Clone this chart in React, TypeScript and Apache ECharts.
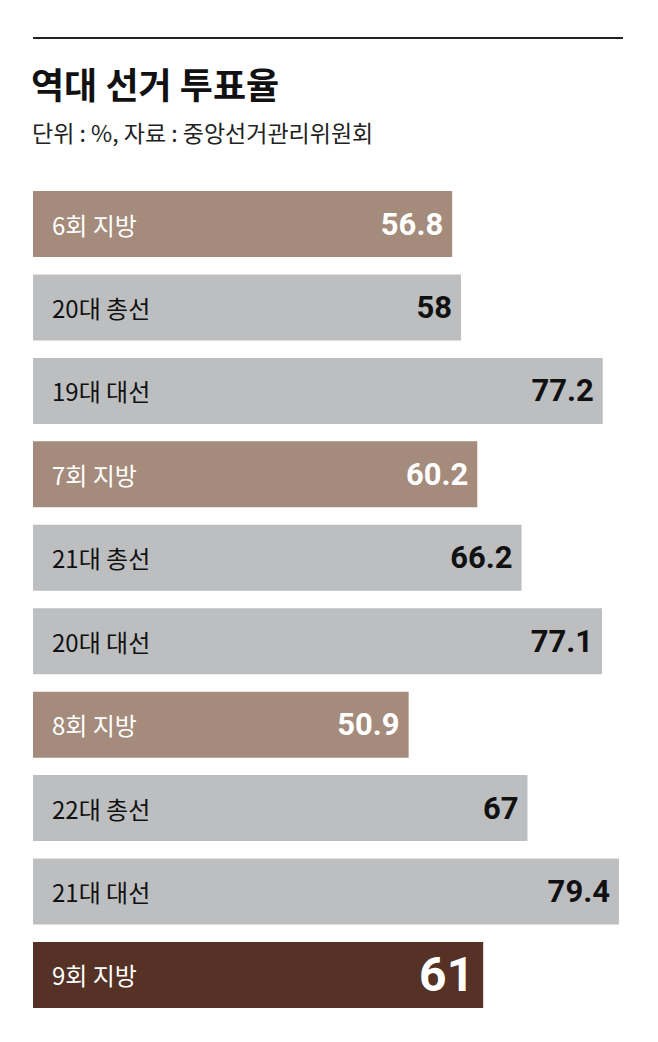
import React, { useEffect, useRef } from "react";
import * as echarts from "echarts";

const categories = ["6회 지방", "20대 총선", "19대 대선", "7회 지방", "21대 총선", "20대 대선", "8회 지방", "22대 총선", "21대 대선", "9회 지방"];
const turnout = [56.8, 58, 77.2, 60.2, 66.2, 77.1, 50.9, 67, 79.4, 61];
const electionType = ["local", "general", "presidential", "local", "general", "presidential", "local", "general", "presidential", "latest"];

const titleText = "역대 선거 투표율";
const subtitleText = "단위 : %, 자료 : 중앙선거관리위원회";

const barColor: Record<string, string> = {
  local: "#a58b7b",
  general: "#bdbec0",
  presidential: "#bdbec0",
  latest: "#553225",
};
const textColor: Record<string, string> = {
  local: "#ffffff",
  general: "#111111",
  presidential: "#111111",
  latest: "#ffffff",
};

const KR = "'Noto Sans CJK KR', sans-serif";
const NUM = "Roboto, 'Liberation Sans', sans-serif";

export default function App() {
  const ref = useRef<HTMLDivElement>(null);
  useEffect(() => {
    if (!ref.current) return;
    const chart = echarts.init(ref.current, undefined, { renderer: "svg" });
    chart.setOption({
      animation: false,
      backgroundColor: "#ffffff",
      grid: { left: 33, right: 34.6, top: 182.3, bottom: 25.3 },
      xAxis: { type: "value", min: 0, max: 80, show: false },
      yAxis: { type: "category", data: categories, inverse: true, show: false },
      graphic: [
        { type: "line", shape: { x1: 33, y1: 38, x2: 623, y2: 38 }, style: { stroke: "#222", lineWidth: 2 } },
        { type: "text", left: 31, top: 65, style: { text: titleText, fontSize: 36, fontWeight: "bold", fill: "#111", fontFamily: KR } },
        { type: "text", left: 32, top: 120, style: { text: subtitleText, fontSize: 23, fill: "#222", fontFamily: KR } },
      ],
      series: [
        {
          type: "bar",
          silent: true,
          barWidth: 66,
          data: turnout.map((v, i) => ({
            value: v,
            itemStyle: { color: barColor[electionType[i]] },
            label: { color: textColor[electionType[i]] },
          })),
          label: {
            show: true,
            position: "insideLeft",
            distance: 19,
            fontSize: 24,
            fontFamily: KR,
            formatter: (p: any) => categories[p.dataIndex],
          },
        },
        {
          type: "bar",
          silent: true,
          barWidth: 66,
          barGap: "-100%",
          data: turnout.map((v, i) => ({
            value: v,
            itemStyle: { color: "transparent" },
            label: {
              color: textColor[electionType[i]],
              fontSize: electionType[i] === "latest" ? 48 : 31,
            },
          })),
          label: {
            show: true,
            position: "insideRight",
            distance: 9,
            fontWeight: "bold",
            fontFamily: NUM,
            formatter: (p: any) => String(p.value),
          },
        },
      ],
    });
    return () => chart.dispose();
  }, []);
  return <div ref={ref} style={{ position: "absolute", left: 0, top: 0, width: 658, height: 1042 }} />;
}
